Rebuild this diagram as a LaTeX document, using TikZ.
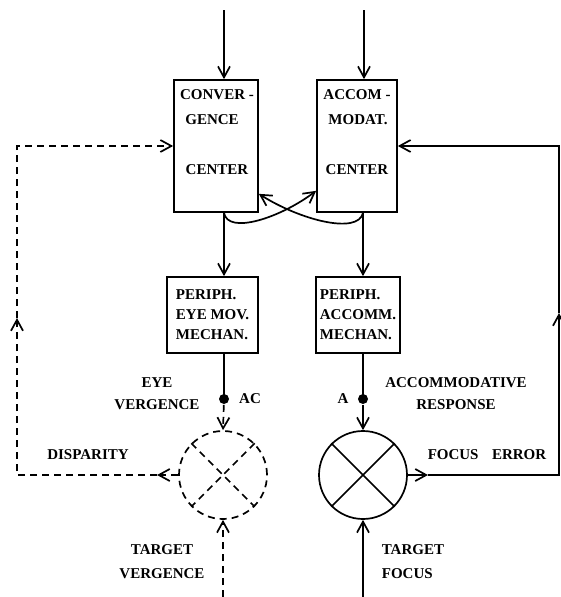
\documentclass[tikz,border=0pt]{standalone}
\usepackage{fontspec}
\setmainfont{Liberation Serif}
\usetikzlibrary{arrows.meta}

\tikzset{
  every node/.style={font=\fontsize{15}{20}\selectfont\bfseries},
  blk/.style={draw, line width=1.7pt, inner sep=0pt},
  sumcirc/.style={draw, circle, line width=1.7pt, minimum size=88pt, inner sep=0pt},
  lbl/.style={align=center, inner sep=0pt},
  dot/.style={circle, fill, minimum size=10pt, inner sep=0pt},
  flow/.style={-{Straight Barb[length=11pt,width=12pt]}},
  dsh/.style={dash pattern=on 7pt off 5pt},
}

\begin{document}
\begin{tikzpicture}[x=1pt, y=-1pt, line width=1.7pt]
    \useasboundingbox (0,0) rectangle (561,597);

    % centres
    \node[blk, minimum width=84pt, minimum height=132pt] (conv) at (216,146) {};
    \node[blk, minimum width=80pt, minimum height=132pt] (accom) at (357,146) {};

    \node (convA) at (217,95) {CONVER -};
    \node (convB) at (212,120) {GENCE};
    \node (convC) at (217,170) {CENTER};
    \node (accA) at (357,95) {ACCOM -};
    \node (accB) at (358,120) {MODAT.};
    \node (accC) at (357,170) {CENTER};

    % peripheral mechanisms
    \node[blk, minimum width=91pt, minimum height=76pt, align=left] (eyemech) at (212.5,315) {PERIPH.\\EYE MOV.\\MECHAN.};
    \node[blk, minimum width=84pt, minimum height=76pt, align=left] (accmech) at (358,315) {PERIPH.\\ACCOMM.\\MECHAN.};

    \node[dot] (ac) at (224,399) {};
    \node[dot] (a) at (363,399) {};

    % comparators
    \node[sumcirc, dsh] (vsum) at (223,475) {};
    \node[sumcirc] (fsum) at (363,475) {};
    \draw[dsh] (vsum.45) -- (vsum.225) (vsum.135) -- (vsum.315);
    \draw (fsum.45) -- (fsum.225) (fsum.135) -- (fsum.315);

    % labels
    \node[lbl] (eyev) at (157,394) {EYE\\[2pt]VERGENCE};
    \node[lbl] (accr) at (456,394) {ACCOMMODATIVE\\[2pt]RESPONSE};
    \node (acl) at (250,399) {AC};
    \node (al) at (343,399) {A};
    \node (disp) at (88,455) {DISPARITY};
    \node (ferr) at (487,455) {FOCUS\hspace{0.9em}ERROR};
    \node[lbl] (tv) at (162,562) {TARGET\\[4pt]VERGENCE};
    \node[lbl, align=left, anchor=west] (tf) at (381,562) {TARGET\\[4pt]FOCUS};

    \coordinate (inC) at (224,10);
    \coordinate (inA) at (364,10);
    \coordinate (tgtV) at (223,597);
    \coordinate (tgtF) at (363,597);

    \draw[flow] (inC) -- (conv.north -| inC);
    \draw[flow] (inA) -- (accom.north -| inA);
    \draw[flow] (conv.south -| ac) -- (eyemech.north -| ac);
    \draw[flow] (accom.south -| a) -- (accmech.north -| a);

    % cross coupling
    \draw[flow] (conv.south -| ac) .. controls (228,235) and (280,218) .. ([yshift=22pt]accom.south west);
    \draw[flow] (accom.south -| a) .. controls (358,235) and (300,220) .. ([yshift=19pt]conv.south east);

    \draw (eyemech.south -| ac) -- (ac.center);
    \draw[flow, dsh] (ac) -- (vsum.north);
    \draw (accmech.south -| a) -- (a.center);
    \draw[flow] (a) -- (fsum);

    \draw[flow, dsh] (tgtV) -- (vsum);
    \draw[flow] (tgtF) -- (fsum);

    % vergence loop
    \coordinate (dispA) at (157,475);
    \coordinate (lc1) at (17,475);
    \coordinate (lup) at (17,318);
    \coordinate (lc2) at (17,146);
    \draw[flow, dsh] (vsum) -- (dispA);
    \draw[flow, dsh] (dispA) -- (lc1) -- (lup);
    \draw[flow, dsh] (lup) -- (lc2) -- (conv);

    % accommodation loop
    \coordinate (ferrA) at (428,475);
    \coordinate (rc1) at (559,475);
    \coordinate (rup) at (559,313);
    \coordinate (rc2) at (559,146);
    \draw[flow] (fsum) -- (ferrA);
    \draw[flow] (ferrA) -- (rc1) -- (rup);
    \draw[flow] (rup) -- (rc2) -- (accom);
\end{tikzpicture}
\end{document}
